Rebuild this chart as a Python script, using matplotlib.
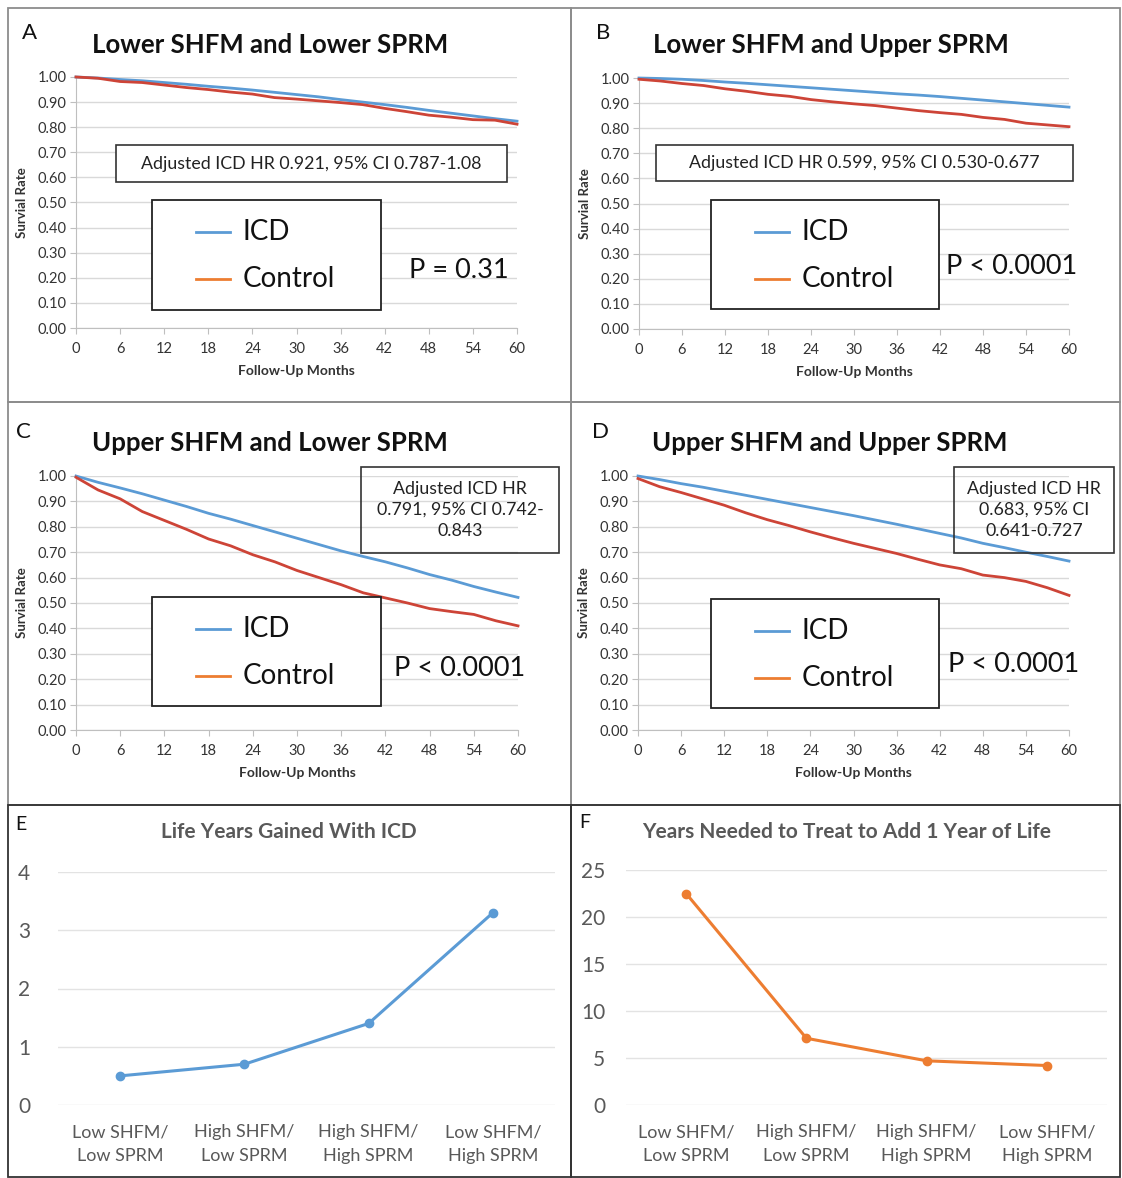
import numpy as np
import matplotlib.pyplot as plt
from matplotlib.patches import Rectangle

plt.rcParams['font.family'] = ['Lato', 'DejaVu Sans']

# ---- data ----
months = [0, 3, 6, 9, 12, 15, 18, 21, 24, 27, 30, 33, 36, 39, 42, 45, 48, 51, 54, 57, 60]

a_icd = [1.00, 0.996, 0.990, 0.985, 0.978, 0.971, 0.963, 0.956, 0.948, 0.939, 0.930,
         0.921, 0.910, 0.900, 0.890, 0.879, 0.867, 0.856, 0.845, 0.834, 0.824]
a_ctl = [1.00, 0.995, 0.982, 0.978, 0.968, 0.958, 0.950, 0.940, 0.932, 0.918, 0.912,
         0.905, 0.898, 0.890, 0.875, 0.862, 0.848, 0.840, 0.830, 0.828, 0.812]
b_icd = [1.00, 0.998, 0.995, 0.990, 0.984, 0.979, 0.973, 0.967, 0.961, 0.955, 0.949,
         0.943, 0.937, 0.932, 0.926, 0.919, 0.912, 0.905, 0.898, 0.891, 0.884]
b_ctl = [0.995, 0.988, 0.978, 0.970, 0.957, 0.947, 0.935, 0.927, 0.914, 0.905, 0.897,
         0.890, 0.880, 0.870, 0.862, 0.855, 0.843, 0.835, 0.820, 0.813, 0.806]
c_icd = [1.00, 0.975, 0.953, 0.930, 0.905, 0.880, 0.853, 0.830, 0.805, 0.780, 0.755,
         0.730, 0.705, 0.683, 0.662, 0.638, 0.612, 0.590, 0.565, 0.543, 0.522]
c_ctl = [0.995, 0.945, 0.910, 0.860, 0.825, 0.790, 0.752, 0.725, 0.690, 0.662, 0.628,
         0.600, 0.572, 0.540, 0.520, 0.500, 0.478, 0.466, 0.455, 0.430, 0.410]
d_icd = [1.00, 0.986, 0.970, 0.956, 0.940, 0.924, 0.908, 0.892, 0.876, 0.860, 0.844,
         0.827, 0.810, 0.792, 0.774, 0.756, 0.735, 0.718, 0.700, 0.683, 0.665]
d_ctl = [0.990, 0.958, 0.935, 0.910, 0.885, 0.855, 0.828, 0.805, 0.780, 0.757, 0.735,
         0.715, 0.695, 0.672, 0.650, 0.635, 0.610, 0.600, 0.585, 0.560, 0.530]

km_titles = ['Lower SHFM and Lower SPRM', 'Lower SHFM and Upper SPRM',
             'Upper SHFM and Lower SPRM', 'Upper SHFM and Upper SPRM']
hr_texts = ['Adjusted ICD HR 0.921, 95% CI 0.787-1.08',
            'Adjusted ICD HR 0.599, 95% CI 0.530-0.677',
            'Adjusted ICD HR\n0.791, 95% CI 0.742-\n0.843',
            'Adjusted ICD HR\n0.683, 95% CI\n0.641-0.727']
p_texts = ['P = 0.31', 'P < 0.0001', 'P < 0.0001', 'P < 0.0001']

groups = ['Low SHFM/\nLow SPRM', 'High SHFM/\nLow SPRM', 'High SHFM/\nHigh SPRM', 'Low SHFM/\nHigh SPRM']
life_years = [0.5, 0.7, 1.4, 3.3]
years_to_treat = [22.5, 7.1, 4.7, 4.2]

BLUE = '#5B9BD5'
RED = '#CD4437'
ORANGE = '#ED7D31'
GRID = '#D9D9D9'

W, H = 1122, 1178
fig = plt.figure(figsize=(W / 100, H / 100), dpi=100)


def box(x0, y0, x1, y1):
    return [x0 / W, 1 - y1 / H, (x1 - x0) / W, (y1 - y0) / H]


# overlay in pixel coords for borders / boxes / text
ov = fig.add_axes([0, 0, 1, 1], zorder=5)
ov.set_xlim(0, W)
ov.set_ylim(H, 0)
ov.axis('off')
ov.patch.set_alpha(0)

# panel borders
for (x0, y0, x1, y1), col in [((8, 8, 571, 402), '#8c8c8c'), ((571, 8, 1120, 402), '#8c8c8c'),
                              ((8, 402, 571, 805), '#8c8c8c'), ((571, 402, 1120, 805), '#8c8c8c'),
                              ((8, 805, 571, 1177), '#333333'), ((571, 805, 1120, 1177), '#333333')]:
    ov.add_patch(Rectangle((x0, y0), x1 - x0, y1 - y0, fill=False, ec=col, lw=1.3))

# ---- Kaplan-Meier panels ----
km_axes = [(76, 77, 517, 328), (639, 78, 1069, 329), (76, 476, 518, 730), (638, 476, 1069, 730)]
km_data = [(a_icd, a_ctl), (b_icd, b_ctl), (c_icd, c_ctl), (d_icd, d_ctl)]
letters = ['A', 'B', 'C', 'D']
letter_pos = [(30, 33), (603, 33), (23, 432), (601, 432)]
title_pos = [(270, 45), (831, 45), (270, 443), (830, 443)]
hr_boxes = [(116, 145, 507, 182), (656, 145, 1073, 181), (361, 467, 559, 553), (954, 467, 1114, 553)]
hr_fill = [True, True, False, False]
leg_boxes = [(152, 200, 381, 310), (711, 200, 939, 309), (152, 597, 381, 706), (711, 599, 939, 708)]
p_pos = [(459, 270), (1012, 267), (460, 668), (1014, 665)]

for i in range(4):
    x0, y0, x1, y1 = km_axes[i]
    ax = fig.add_axes(box(x0, y0, x1, y1))
    icd, ctl = km_data[i]
    ax.plot(months, icd, color=BLUE, lw=2.0, clip_on=False, zorder=3)
    ax.plot(months, ctl, color=RED, lw=2.0, clip_on=False, zorder=3)
    ax.set_xlim(0, 60)
    ax.set_ylim(0, 1)
    ax.set_xticks(np.arange(0, 61, 6))
    ax.set_yticks(np.arange(0, 1.01, 0.1))
    ax.set_yticklabels(['%.2f' % v for v in np.arange(0, 1.01, 0.1)])
    ax.grid(axis='y', color=GRID, lw=1)
    ax.set_axisbelow(True)
    for s in ['top', 'right']:
        ax.spines[s].set_visible(False)
    for s in ['left', 'bottom']:
        ax.spines[s].set_color('#BFBFBF')
    ax.tick_params(colors='#BFBFBF', labelcolor='#333333', labelsize=10.5, length=4)
    ax.tick_params(axis='x', pad=6)
    ax.tick_params(axis='y', pad=3)
    ax.set_xlabel('Follow-Up Months', fontsize=10, fontweight='bold', color='#333333', va='center')
    ax.set_ylabel('Survial Rate', fontsize=9.5, fontweight='bold', color='#333333', va='center')
    ax.xaxis.set_label_coords(0.5, -43 / (y1 - y0))
    ax.yaxis.set_label_coords(-54 / (x1 - x0), 0.5)

    ov.text(*letter_pos[i], letters[i], fontsize=16, ha='center', va='center', color='#111111')
    ov.text(*title_pos[i], km_titles[i], fontsize=18.5, fontweight='bold', ha='center', va='center',
            color='#111111')

    hx0, hy0, hx1, hy1 = hr_boxes[i]
    ov.add_patch(Rectangle((hx0, hy0), hx1 - hx0, hy1 - hy0, fc='white' if hr_fill[i] else 'none',
                           ec='#333333', lw=1.2))
    ov.text((hx0 + hx1) / 2, (hy0 + hy1) / 2, hr_texts[i], fontsize=12.8, ha='center', va='center',
            color='#222222', linespacing=1.38)

    lx0, ly0, lx1, ly1 = leg_boxes[i]
    ov.add_patch(Rectangle((lx0, ly0), lx1 - lx0, ly1 - ly0, fc='white', ec='#222222', lw=1.3))
    for k, (lab, col) in enumerate([('ICD', BLUE), ('Control', ORANGE)]):
        yy = ly0 + 32 + k * 47
        ov.plot([lx0 + 44, lx0 + 78], [yy, yy], color=col, lw=2)
        ov.text(lx0 + 91, yy, lab, fontsize=20, ha='left', va='center', color='#111111')

    ov.text(*p_pos[i], p_texts[i], fontsize=19.5, ha='center', va='center', color='#111111')

# ---- bottom panels ----
bottom = [
    dict(rect=(58, 872, 555, 1105), vals=life_years, col=BLUE, ymax=4, step=1, ypad=20,
         title='Life Years Gained With ICD', tpos=(289, 832), letter='E', lpos=(21, 825)),
    dict(rect=(626, 870, 1107, 1105), vals=years_to_treat, col=ORANGE, ymax=25, step=5, ypad=15,
         title='Years Needed to Treat to Add 1 Year of Life', tpos=(847, 832), letter='F',
         lpos=(585, 822)),
]
for p in bottom:
    x0, y0, x1, y1 = p['rect']
    ax = fig.add_axes(box(x0, y0, x1, y1))
    xs = np.arange(len(groups))
    ax.plot(xs, p['vals'], color=p['col'], lw=2.2, marker='o', ms=6, clip_on=False, zorder=3)
    ax.set_xlim(-0.5, len(groups) - 0.5)
    ax.set_ylim(0, p['ymax'])
    ax.set_yticks(np.arange(0, p['ymax'] + 0.1, p['step']))
    ax.set_xticks(xs)
    ax.set_xticklabels(groups, linespacing=1.55)
    ax.grid(axis='y', color='#E3E3E3', lw=1)
    ax.set_axisbelow(True)
    for s in ax.spines.values():
        s.set_visible(False)
    ax.tick_params(length=0, labelcolor='#595959')
    ax.tick_params(axis='y', labelsize=15, pad=p['ypad'])
    ax.tick_params(axis='x', labelsize=13, pad=14)
    ov.text(*p['tpos'], p['title'], fontsize=15, fontweight='bold', ha='center', va='center',
            color='#595959')
    ov.text(*p['lpos'], p['letter'], fontsize=14, ha='center', va='center', color='#111111')

fig.savefig('out.png', dpi=100, facecolor='white')
